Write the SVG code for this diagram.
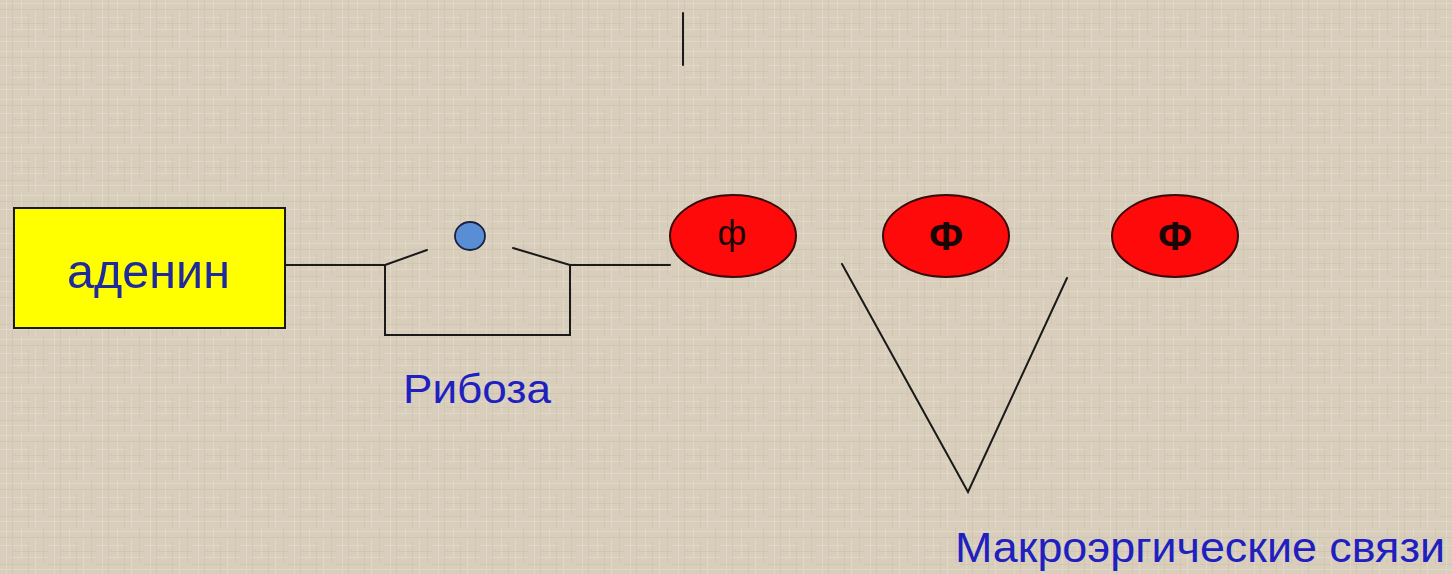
<svg xmlns="http://www.w3.org/2000/svg" width="1452" height="574" viewBox="0 0 1452 574">
  <style>
    .line { fill: none; stroke: #1a1a1a; stroke-width: 2; stroke-linecap: round; stroke-linejoin: miter; }
    .label { font-family: "Liberation Sans", Arial, sans-serif; fill: #2020c0; }
    .phos { fill: #ff0a0a; stroke: #3a0a0a; stroke-width: 2; }
    .phos-text { font-family: "Liberation Sans", Arial, sans-serif; fill: #1a0505; text-anchor: middle; }
  </style>
  <defs>
    <!-- linen-like background weave -->
    <pattern id="linen" width="48" height="48" patternUnits="userSpaceOnUse">
      <rect width="48" height="48" fill="#d8cebb"/>
      <g stroke="#e8e1d2" stroke-width="1" opacity="0.55">
        <line x1="0" y1="3.5" x2="48" y2="3.5"/>
        <line x1="0" y1="17.5" x2="30" y2="17.5"/>
        <line x1="10" y1="29.5" x2="48" y2="29.5"/>
        <line x1="0" y1="41.5" x2="48" y2="41.5"/>
        <line x1="6.5" y1="0" x2="6.5" y2="48"/>
        <line x1="21.5" y1="0" x2="21.5" y2="30"/>
        <line x1="35.5" y1="10" x2="35.5" y2="48"/>
      </g>
      <g stroke="#c6bba6" stroke-width="1" opacity="0.45">
        <line x1="0" y1="9.5" x2="48" y2="9.5"/>
        <line x1="14" y1="23.5" x2="48" y2="23.5"/>
        <line x1="0" y1="36.5" x2="34" y2="36.5"/>
        <line x1="12.5" y1="0" x2="12.5" y2="48"/>
        <line x1="28.5" y1="14" x2="28.5" y2="48"/>
        <line x1="43.5" y1="0" x2="43.5" y2="36"/>
      </g>
    </pattern>
  </defs>

  <rect width="1452" height="574" fill="url(#linen)"/>

  <!-- connectors and bond lines -->
  <g id="connectors">
    <line class="line" x1="683" y1="13" x2="683" y2="65"/>
    <line class="line" x1="286" y1="265" x2="385" y2="265"/>
    <polyline class="line" points="427,250 385,265 385,335 570,335 570,265 513,248"/>
    <line class="line" x1="570" y1="265" x2="670" y2="265"/>
    <polyline class="line" points="842,264 968,492 1067,278"/>
  </g>

  <g id="adenine">
    <rect x="14" y="208" width="271" height="120" fill="#ffff00" stroke="#1a1a1a" stroke-width="2"/>
    <text class="label" x="67" y="288" font-size="49" textLength="163" lengthAdjust="spacingAndGlyphs" style="fill:#1e2a9e">аденин</text>
  </g>

  <g id="ribose">
    <ellipse cx="470" cy="236" rx="15" ry="14" fill="#5a8ed4" stroke="#1a2040" stroke-width="1.8"/>
    <text class="label" x="403" y="403" font-size="40" textLength="148" lengthAdjust="spacingAndGlyphs">Рибоза</text>
  </g>

  <g id="phosphate-1">
    <ellipse class="phos" cx="733" cy="236" rx="63" ry="41"/>
    <text class="phos-text" x="732" y="245" font-size="35">ф</text>
  </g>

  <g id="phosphate-2">
    <ellipse class="phos" cx="946" cy="236" rx="63" ry="41"/>
    <text class="phos-text" x="946" y="250" font-size="40" font-weight="bold">Ф</text>
  </g>

  <g id="phosphate-3">
    <ellipse class="phos" cx="1175" cy="236" rx="63" ry="41"/>
    <text class="phos-text" x="1175" y="250" font-size="40" font-weight="bold">Ф</text>
  </g>

  <g id="bonds-label">
    <text class="label" x="955" y="562" font-size="43" textLength="490" lengthAdjust="spacingAndGlyphs">Макроэргические связи</text>
  </g>
</svg>
